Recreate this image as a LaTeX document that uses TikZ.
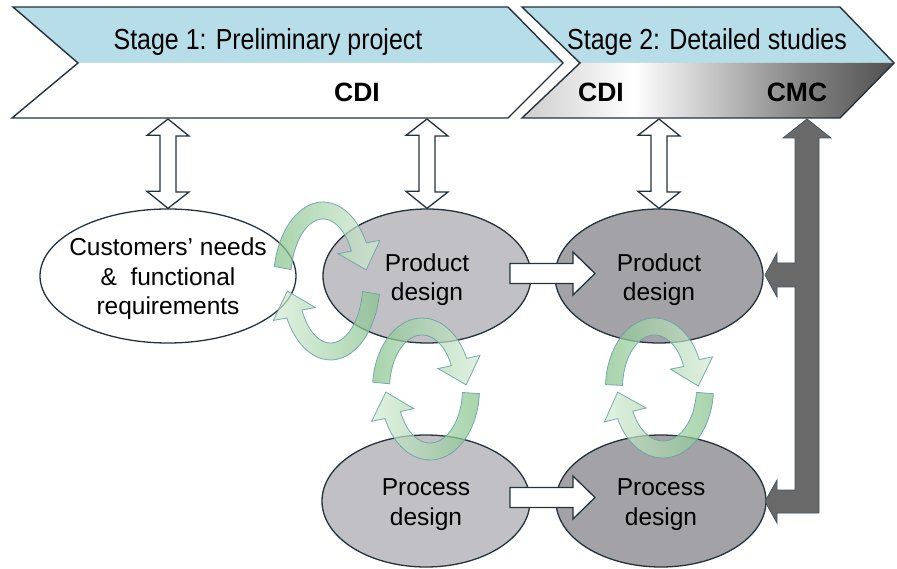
\documentclass[tikz,border=0pt]{standalone}
\usepackage{fontspec}
\setmainfont{Liberation Sans}
\usepackage{graphicx}
\usetikzlibrary{shapes.geometric}

\definecolor{outl}{RGB}{35,50,60}
\definecolor{bluefill}{RGB}{183,221,232}
\definecolor{ellA}{RGB}{192,192,197}
\definecolor{ellB}{RGB}{162,162,167}
\definecolor{arrgray}{RGB}{105,105,105}
\definecolor{arrgrayout}{RGB}{70,85,95}
\definecolor{gdk}{RGB}{135,196,140}
\definecolor{glt}{RGB}{214,236,214}
\definecolor{gout}{RGB}{105,162,168}
\definecolor{sgA}{RGB}{205,205,205}
\definecolor{sgC}{RGB}{135,135,135}
\definecolor{sgD}{RGB}{80,80,80}

\pgfdeclarehorizontalshading{stagetwo}{100bp}{color(0bp)=(sgA); color(25bp)=(sgA); color(40bp)=(white); color(62bp)=(sgC); color(75bp)=(sgD); color(100bp)=(sgD)}

% cycle arrow: cx, cy, rx, ry, start angle, end angle, style
\newcommand\cqcyc[7]{%
 \pgfmathsetmacro\cqRo{#3+8.5}\pgfmathsetmacro\cqSo{#4+8.5}%
 \pgfmathsetmacro\cqRi{#3-8.5}\pgfmathsetmacro\cqSi{#4-8.5}%
 \pgfmathsetmacro\cqSx{#1+\cqRo*cos(#5)}\pgfmathsetmacro\cqSy{#2+\cqSo*sin(#5)}%
 \pgfmathsetmacro\cqPx{#1+#3*cos(#6)}\pgfmathsetmacro\cqPy{#2+#4*sin(#6)}%
 \pgfmathsetmacro\cqTx{-#3*sin(#6)}\pgfmathsetmacro\cqTy{#4*cos(#6)}%
 \pgfmathsetmacro\cqTn{sqrt(\cqTx*\cqTx+\cqTy*\cqTy)}%
 \pgfmathsetmacro\cqUx{\cqTx/\cqTn}\pgfmathsetmacro\cqUy{\cqTy/\cqTn}%
 \pgfmathsetmacro\cqAx{\cqPx+22*\cqUy}\pgfmathsetmacro\cqAy{\cqPy-22*\cqUx}%
 \pgfmathsetmacro\cqBx{\cqPx-22*\cqUy}\pgfmathsetmacro\cqBy{\cqPy+22*\cqUx}%
 \pgfmathsetmacro\cqHx{\cqPx+24*\cqUx}\pgfmathsetmacro\cqHy{\cqPy+24*\cqUy}%
 \pgfmathsetmacro\cqIx{#1+\cqRi*cos(#6)}\pgfmathsetmacro\cqIy{#2+\cqSi*sin(#6)}%
 \path[#7] (\cqSx,\cqSy) arc[start angle=#5,end angle=#6,x radius=\cqRo,y radius=\cqSo]
   -- (\cqAx,\cqAy) -- (\cqHx,\cqHy) -- (\cqBx,\cqBy) -- (\cqIx,\cqIy)
   arc[start angle=#6,end angle=#5,x radius=\cqRi,y radius=\cqSi] -- cycle;%
}
% vertical double block arrow from top point to bottom point (length 90)
\newcommand\cqvd[2]{\draw[blockarrow] (#1) -- ++(21,17) -- ++(-13,0) -- ++(0,56) -- ++(13,0) -- (#2) -- ++(-21,-17) -- ++(13,0) -- ++(0,-56) -- ++(-13,0) -- cycle;}
% horizontal block arrow starting at a point
\newcommand\cqhz[1]{\draw[blockarrow] (#1) ++(0,-10) -- ++(63,0) -- ++(0,-11.5) -- ++(22,21.5) -- ++(-22,21.5) -- ++(0,-11.5) -- ++(-63,0) -- cycle;}

\begin{document}
\begin{tikzpicture}[x=1pt,y=1pt,yscale=-1,
  outline/.style={draw=outl,line width=1.4pt,line join=miter},
  ell/.style={ellipse,draw=outl,line width=1.3pt,inner sep=0pt},
  blockarrow/.style={fill=white,draw=outl,line width=1.3pt,line join=miter},
  grayarrow/.style={fill=arrgray,draw=arrgrayout,line width=0.8pt,line join=miter},
  cycA/.style={left color=gdk,right color=glt,draw=gout,line width=0.8pt,fill opacity=0.72,draw opacity=0.9},
  cycB/.style={left color=glt,right color=gdk,draw=gout,line width=0.8pt,fill opacity=0.72,draw opacity=0.9},
  lbl/.style={font=\fontsize{24.5}{29.5}\selectfont,align=center,inner sep=0pt},
  stagetxt/.style={font=\fontsize{29}{30}\selectfont,anchor=base,inner sep=0pt},
  boldtxt/.style={font=\fontsize{26.5}{28}\selectfont\bfseries,anchor=base,inner sep=0pt}]

\fill[white] (0,0) rectangle (897,569);
\useasboundingbox (0,0) rectangle (897,569);

% Stage 1 chevron
\fill[bluefill] (13,7) -- (508,7) -- (563,63) -- (78,63) -- cycle;
\fill[white] (78,63) -- (563,63) -- (508,118) -- (12,118) -- cycle;
\draw[outline] (13,7) -- (508,7) -- (563,63) -- (508,118) -- (12,118) -- (78,63) -- cycle;
% Stage 2 chevron
\fill[bluefill] (522,7) -- (840,7) -- (894,63) -- (580,63) -- cycle;
\shade[shading=stagetwo] (580,63) -- (894,63) -- (840,118) -- (522,118) -- cycle;
\draw[outline] (522,7) -- (840,7) -- (894,63) -- (840,118) -- (522,118) -- (580,63) -- cycle;

\node[stagetxt] (st1) at (268,50) {\scalebox{0.86}[1]{Stage 1: Preliminary project}};
\node[stagetxt] (st2) at (707,50) {\scalebox{0.86}[1]{Stage 2: Detailed studies}};
\node[boldtxt] (cdi1) at (357,102) {CDI};
\node[boldtxt] (cdi2) at (601,102) {CDI};
\node[boldtxt] (cmc) at (797,102) {CMC};

\coordinate (t1) at (168,119);
\coordinate (t2) at (427,119);
\coordinate (t3) at (659,119);

% ellipses
\node[ell,fill=white,minimum width=256pt,minimum height=134pt] (cust) at (168,276) {};
\node[ell,fill=ellA,minimum width=208pt,minimum height=134pt] (p1) at (427,276) {};
\node[ell,fill=ellB,minimum width=208pt,minimum height=134pt] (p2) at (659,276) {};
\node[ell,fill=ellA,minimum width=208pt,minimum height=132pt] (q1) at (426,501) {};
\node[ell,fill=ellB,minimum width=210pt,minimum height=132pt] (q2) at (661,501) {};

% green cycles
\cqcyc{323}{281}{41}{70.5}{190.6}{331.2}{cycA}
\cqcyc{330.6}{281}{41}{70.5}{9.8}{152.1}{cycB}
\cqcyc{422}{389}{41}{62.5}{185.5}{334.4}{cycA}
\cqcyc{430}{389}{41}{62.5}{3.7}{155.4}{cycB}
\cqcyc{654.5}{388}{40.5}{61.5}{182.8}{336}{cycA}
\cqcyc{663}{388}{42}{61.5}{4.7}{154}{cycB}

% labels
\node[lbl] (custtxt) at (168,279) {Customers’ needs\\\& \ functional\\requirements};
\node[lbl] (p1txt) at (427,279.5) {Product\\design};
\node[lbl] (p2txt) at (659,279.5) {Product\\design};
\node[lbl] (q1txt) at (426,504.5) {Process\\design};
\node[lbl] (q2txt) at (661,504.5) {Process\\design};

% horizontal block arrows
\coordinate (pa) at (510,273.5);
\coordinate (qa) at (510,497.5);
\cqhz{pa}
\cqhz{qa}

% vertical double arrows
\cqvd{t1}{cust.north}
\cqvd{t2}{p1.north}
\cqvd{t3}{p2.north}

% gray CMC arrow
\draw[grayarrow] (807,119) -- (831,138) -- (819,138) -- (819,513) -- (777,513) -- (777,523) -- (765,501.5) -- (777,480) -- (777,490) -- (795,490) -- (795,287) -- (777,287) -- (777,297) -- (765,275) -- (777,253) -- (777,263) -- (795,263) -- (795,138) -- (783,138) -- cycle;

\end{tikzpicture}
\end{document}
